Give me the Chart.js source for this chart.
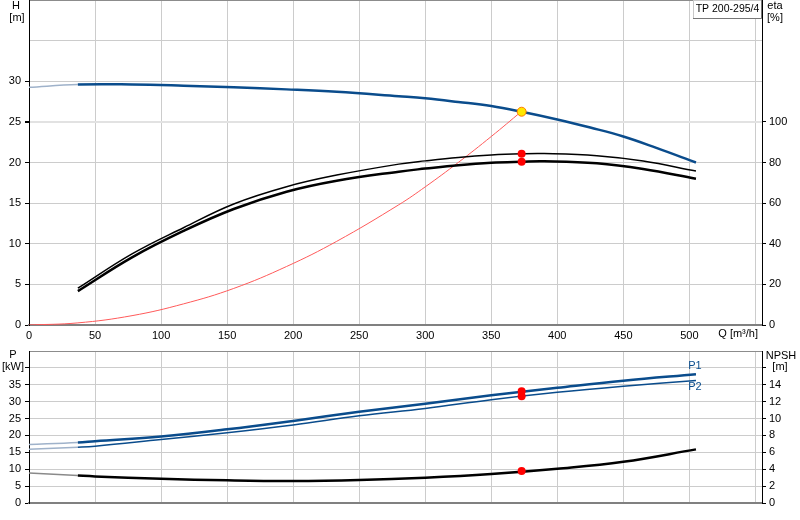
<!DOCTYPE html>
<html>
<head>
<meta charset="utf-8">
<script src="https://cdn.jsdelivr.net/npm/chart.js@4.4.0/dist/chart.umd.min.js"></script>
<style>
  body { margin: 0; background: #fff; width: 800px; height: 520px; position: relative; overflow: hidden; }
  .wrap { position: absolute; left: 0; width: 800px; }
</style>
</head>
<body>
<div class="wrap" style="top:0;height:340px"><canvas id="chartTop"></canvas></div>
<div class="wrap" style="top:340px;height:180px"><canvas id="chartBottom"></canvas></div>
<script>
// Q [m3/h] and curve values
const qPump = [0, 37, 78, 117, 155, 195, 233, 280, 300, 325, 350, 373, 400, 425, 450, 475, 505];
const headH = [29.25, 29.6, 29.6, 29.45, 29.25, 29.0, 28.7, 28.15, 27.9, 27.45, 26.95, 26.25, 25.3, 24.3, 23.2, 21.8, 20.0];

const qEta = [37, 78, 117, 155, 195, 233, 280, 300, 325, 350, 373, 390, 430, 465, 505];
const etaUpper = [18.1, 35.0, 47.9, 59.6, 68.1, 73.8, 79.2, 80.8, 82.5, 83.7, 84.3, 84.4, 83.3, 80.7, 75.8];
const etaLower = [16.7, 33.3, 46.3, 57.1, 65.6, 71.0, 75.5, 77.0, 78.7, 79.9, 80.4, 80.6, 79.6, 76.8, 72.0];

const qSystem = [0, 37, 78, 117, 155, 195, 233, 280, 300, 325, 350, 373];
const hSystem = [0, 0.26, 1.15, 2.6, 4.5, 7.2, 10.3, 14.8, 17.0, 20.0, 23.2, 26.3];

const qPower = [0, 37, 50, 100, 150, 200, 250, 300, 350, 400, 450, 505];
const powerP1 = [17.3, 17.9, 18.3, 19.7, 21.8, 24.3, 27.0, 29.4, 31.9, 34.1, 36.2, 38.1];
const powerP2 = [15.9, 16.5, 16.8, 18.8, 20.8, 23.1, 25.8, 28.0, 30.6, 32.8, 34.6, 36.3];
const npshValues = [3.55, 3.25, 3.15, 2.87, 2.68, 2.6, 2.72, 3.0, 3.43, 4.05, 4.88, 6.35];

const dutyQ = 373;
const dutyH = 26.25;
const dutyEta = [84.3, 80.4];
const dutyP = [33.1, 31.6];
const dutyNpsh = 3.78;

const qMax = 555;
const curveStart = 37;

const blue = '#0a4c8c';
const blueLight = '#9fb2ca';
const font = { family: '"Liberation Sans", Arial, sans-serif', size: 11 };

function pts(xs, ys) {
  return xs.map((x, i) => ({ x: x, y: ys[i] }));
}

// first stretch of each curve (below 37 m3/h) is drawn faded
function fadeStart(color, width) {
  return {
    borderColor: c => c.p1.parsed.x <= curveStart ? color : undefined,
    borderWidth: c => c.p1.parsed.x <= curveStart ? width : undefined
  };
}

function noPad(s) {
  s.paddingTop = 0;
  s.paddingBottom = 0;
  s.paddingLeft = 0;
  s.paddingRight = 0;
}

const textPlugin = {
  id: 'texts',
  afterDraw(chart, args, opts) {
    const c = chart.ctx;
    c.save();
    c.font = '11px "Liberation Sans", Arial, sans-serif';
    c.textBaseline = 'middle';
    if (opts.box) {
      const b = opts.box;
      c.fillStyle = '#fff';
      c.fillRect(b.x, b.y, b.w, b.h);
      c.strokeStyle = '#c8c8c8';
      c.lineWidth = 1;
      c.strokeRect(b.x + 0.5, b.y + 0.5, b.w - 1, b.h - 1);
      c.strokeStyle = '#777';
      c.beginPath();
      c.moveTo(b.x + b.w - 0.5, b.y);
      c.lineTo(b.x + b.w - 0.5, b.y + b.h - 0.5);
      c.lineTo(b.x, b.y + b.h - 0.5);
      c.stroke();
      c.fillStyle = '#000';
      c.textAlign = 'center';
      c.font = '10.5px "Liberation Sans", Arial, sans-serif';
      c.fillText(b.text, b.x + b.w / 2, b.y + b.h / 2);
      c.font = '11px "Liberation Sans", Arial, sans-serif';
    }
    (opts.items || []).forEach(t => {
      c.fillStyle = t.color || '#000';
      c.textAlign = t.align || 'center';
      c.fillText(t.text, t.x, t.y);
    });
    c.restore();
  }
};

function xAxis(height, showLabels) {
  return {
    type: 'linear',
    min: 0,
    max: qMax,
    afterFit: s => { noPad(s); s.height = height; },
    grid: { color: '#cccccc', lineWidth: 1, drawTicks: false },
    border: { color: '#808080', width: 2 },
    ticks: {
      display: showLabels,
      stepSize: 50,
      includeBounds: false,
      autoSkip: false,
      maxRotation: 0,
      padding: 4,
      color: '#000',
      font: font,
      callback: v => v > 500 ? '' : v
    }
  };
}

function leftAxis(max, step, lastLabel, lastMark) {
  return {
    position: 'left',
    min: 0,
    max: max,
    afterFit: s => { noPad(s); s.width = 29; },
    grid: {
      color: c => c.tick && c.tick.value === max ? '#8c8c8c' : '#cccccc',
      tickLength: 4,
      tickColor: c => c.tick && c.tick.value > lastMark ? 'rgba(0,0,0,0)' : '#000'
    },
    border: { color: '#000', width: 1 },
    ticks: {
      stepSize: step,
      padding: 4,
      color: '#000',
      font: font,
      callback: v => v > lastLabel ? '' : v
    }
  };
}

function rightAxis(max, step, lastLabel, lastMark) {
  return {
    position: 'right',
    min: 0,
    max: max,
    afterFit: s => { noPad(s); s.width = 38; },
    grid: {
      drawOnChartArea: false,
      tickLength: 4,
      tickColor: c => c.tick && c.tick.value > lastMark ? 'rgba(0,0,0,0)' : '#000'
    },
    border: { color: '#000', width: 1 },
    ticks: {
      stepSize: step,
      padding: 3,
      color: '#000',
      font: font,
      callback: v => v > lastLabel ? '' : v
    }
  };
}

Chart.defaults.animation = false;

// ---- top: H and eta ----
const topH = leftAxis(40, 5, 30, 30);
topH.grid.color = c => {
  if (!c.tick) return '#cccccc';
  if (c.tick.value === 40) return '#8c8c8c';
  if (c.tick.value === 25) return '#e2e2e2';
  return '#cccccc';
};
topH.grid.lineWidth = c => c.tick && c.tick.value === 25 ? 2 : 1;

new Chart(document.getElementById('chartTop'), {
  type: 'line',
  data: {
    datasets: [
      {
        type: 'scatter', data: [{ x: dutyQ, y: dutyH }], yAxisID: 'yH',
        pointRadius: 4.5, backgroundColor: '#ffe800', borderColor: '#ff7a00', borderWidth: 1
      },
      {
        type: 'scatter', data: dutyEta.map(e => ({ x: dutyQ, y: e })), yAxisID: 'yEta',
        pointRadius: 4, backgroundColor: '#ff0000', borderColor: '#ff0000', borderWidth: 0
      },
      {
        data: pts(qPump, headH), yAxisID: 'yH',
        borderColor: blue, borderWidth: 2.5, pointRadius: 0,
        tension: 0.4, segment: fadeStart(blueLight, 1.5)
      },
      {
        data: pts(qEta, etaUpper), yAxisID: 'yEta',
        borderColor: '#000', borderWidth: 1.5, pointRadius: 0,
        tension: 0.4
      },
      {
        data: pts(qEta, etaLower), yAxisID: 'yEta',
        borderColor: '#000', borderWidth: 2.5, pointRadius: 0,
        tension: 0.4
      },
      {
        data: pts(qSystem, hSystem), yAxisID: 'yH',
        borderColor: '#ff5a5a', borderWidth: 1, pointRadius: 0,
        tension: 0.4
      }
    ]
  },
  options: {
    responsive: true,
    maintainAspectRatio: false,
    layout: { autoPadding: false, padding: { top: 0, left: 0, right: 0, bottom: 0 } },
    plugins: {
      legend: { display: false },
      tooltip: { enabled: false },
      texts: {
        box: { x: 693, y: 0, w: 69, h: 19, text: 'TP 200-295/4' },
        items: [
          { text: 'H', x: 16, y: 6 },
          { text: '[m]', x: 17, y: 18 },
          { text: 'eta', x: 775, y: 6 },
          { text: '[%]', x: 775, y: 18 },
          { text: 'Q [m\u00b3/h]', x: 758, y: 334, align: 'right' }
        ]
      }
    },
    scales: {
      x: xAxis(15, true),
      yH: topH,
      yEta: rightAxis(160, 20, 100, 100)
    }
  },
  plugins: [textPlugin]
});

// ---- bottom: P and NPSH ----
new Chart(document.getElementById('chartBottom'), {
  type: 'line',
  data: {
    datasets: [
      {
        type: 'scatter', data: dutyP.map(p => ({ x: dutyQ, y: p })), yAxisID: 'yP',
        pointRadius: 4, backgroundColor: '#ff0000', borderColor: '#ff0000', borderWidth: 0
      },
      {
        type: 'scatter', data: [{ x: dutyQ, y: dutyNpsh }], yAxisID: 'yN',
        pointRadius: 4, backgroundColor: '#ff0000', borderColor: '#ff0000', borderWidth: 0
      },
      {
        data: pts(qPower, powerP1), yAxisID: 'yP',
        borderColor: blue, borderWidth: 2.5, pointRadius: 0,
        tension: 0.4, segment: fadeStart(blueLight, 1.5)
      },
      {
        data: pts(qPower, powerP2), yAxisID: 'yP',
        borderColor: blue, borderWidth: 1.5, pointRadius: 0,
        tension: 0.4, segment: fadeStart(blueLight, 1.5)
      },
      {
        data: pts(qPower, npshValues), yAxisID: 'yN',
        borderColor: '#000', borderWidth: 2.5, pointRadius: 0,
        tension: 0.4, segment: fadeStart('#8a8a8a', 1.5)
      }
    ]
  },
  options: {
    responsive: true,
    maintainAspectRatio: false,
    layout: { autoPadding: false, padding: { top: 11, left: 0, right: 0, bottom: 0 } },
    plugins: {
      legend: { display: false },
      tooltip: { enabled: false },
      texts: {
        items: [
          { text: 'P', x: 13, y: 15 },
          { text: '[kW]', x: 13, y: 27 },
          { text: 'NPSH', x: 781, y: 16 },
          { text: '[m]', x: 780, y: 27 },
          { text: 'P1', x: 695, y: 26, color: blue },
          { text: 'P2', x: 695, y: 47, color: blue }
        ]
      }
    },
    scales: {
      x: xAxis(17, false),
      yP: leftAxis(45, 5, 35, 40),
      yN: rightAxis(18, 2, 14, 16)
    }
  },
  plugins: [textPlugin]
});
</script>
</body>
</html>
